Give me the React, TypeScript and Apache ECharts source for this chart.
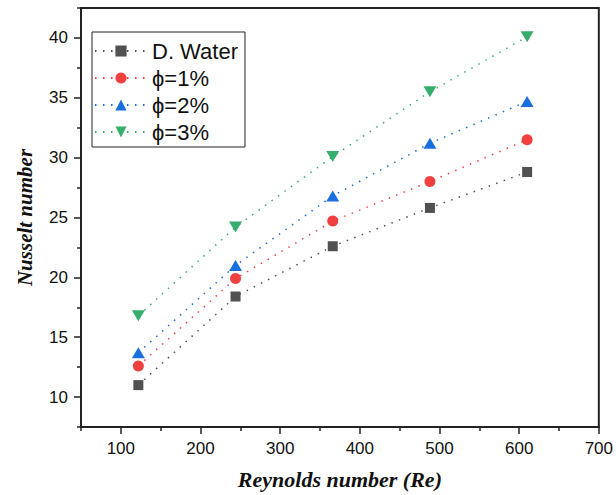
import React, { useEffect, useRef } from "react";
import * as echarts from "echarts";

const reynolds = [122, 244, 366, 488, 610];
const seriesNames = ["D. Water", "ϕ=1%", "ϕ=2%", "ϕ=3%"];
const dWater = [11.0, 18.4, 22.6, 25.8, 28.8];
const phi1 = [12.6, 19.9, 24.7, 28.0, 31.5];
const phi2 = [13.7, 21.0, 26.8, 31.2, 34.7];
const phi3 = [16.8, 24.2, 30.1, 35.5, 40.1];
const xMajorTicks = [100, 200, 300, 400, 500, 600, 700];
const xMinorTicks = [50, 150, 250, 350, 450, 550, 650];
const yMajorTicks = [10, 15, 20, 25, 30, 35, 40];
const yMinorTicks = [7.5, 12.5, 17.5, 22.5, 27.5, 32.5, 37.5, 42.5];

const colors = ["#515151", "#F14040", "#1A6FDF", "#37AD6B"];
const symbols = ["rect", "circle", "triangle", "path://M0,0 L10,0 L5,9 Z"];
const symbolSizes: any[] = [10, 11, [13, 11], [13, 11]];
const allData = [dWater, phi1, phi2, phi3];

const sans = "'Liberation Sans', Arial, sans-serif";
const serif = "'Liberation Serif', 'Times New Roman', serif";
const axisColor = "#222";

export default function App() {
  const ref = useRef<HTMLDivElement>(null);
  useEffect(() => {
    if (!ref.current) return;
    const chart = echarts.init(ref.current, undefined, { renderer: "svg" });
    const series = allData.map((vals, i) => ({
      name: seriesNames[i],
      type: "line",
      xAxisIndex: 0,
      yAxisIndex: 0,
      data: reynolds.map((x, j) => [x, vals[j]]),
      symbol: symbols[i],
      symbolSize: symbolSizes[i],
      itemStyle: { color: colors[i] },
      lineStyle: { color: colors[i], width: 1.5, type: [1.5, 6.5] },
    }));
    chart.setOption({
      animation: false,
      backgroundColor: "#fff",
      grid: {
        left: 81,
        right: 15,
        top: 8,
        bottom: 68,
        show: true,
        borderColor: axisColor,
        borderWidth: 2,
      },
      legend: {
        orient: "vertical",
        left: 92,
        top: 32,
        data: seriesNames,
        itemWidth: 52,
        itemHeight: 14,
        itemGap: 5,
        padding: [8, 7, 4, 2],
        borderColor: axisColor,
        borderWidth: 1,
        backgroundColor: "#fff",
        textStyle: { fontFamily: sans, fontSize: 22, color: "#111" },
      },
      xAxis: [
        {
          type: "value",
          min: 50,
          max: 700,
          position: "bottom",
          name: "Reynolds number (Re)",
          nameLocation: "middle",
          nameGap: 41,
          nameTextStyle: {
            fontFamily: serif,
            fontStyle: "italic",
            fontWeight: "bold",
            fontSize: 22,
            color: "#111",
          },
          axisLine: { show: true, lineStyle: { color: axisColor, width: 2 } },
          axisTick: {
            show: true,
            customValues: xMajorTicks,
            length: 7,
            lineStyle: { color: axisColor, width: 1.5 },
          },
          axisLabel: {
            customValues: xMajorTicks,
            fontFamily: sans,
            fontSize: 17,
            color: "#111",
            margin: 13,
          },
          splitLine: { show: false },
        },
        {
          type: "value",
          min: 50,
          max: 700,
          position: "bottom",
          axisLine: { show: false },
          axisTick: {
            show: true,
            customValues: xMinorTicks,
            length: 4,
            lineStyle: { color: axisColor, width: 1.5 },
          },
          axisLabel: { show: false },
          splitLine: { show: false },
        },
      ],
      yAxis: [
        {
          type: "value",
          min: 7.5,
          max: 42.5,
          position: "left",
          name: "Nusselt number",
          nameLocation: "middle",
          nameGap: 46,
          nameTextStyle: {
            fontFamily: serif,
            fontStyle: "italic",
            fontWeight: "bold",
            fontSize: 21,
            color: "#111",
          },
          axisLine: { show: true, lineStyle: { color: axisColor, width: 2 } },
          axisTick: {
            show: true,
            customValues: yMajorTicks,
            length: 7,
            lineStyle: { color: axisColor, width: 1.5 },
          },
          axisLabel: {
            customValues: yMajorTicks,
            fontFamily: sans,
            fontSize: 17,
            color: "#111",
            margin: 13,
          },
          splitLine: { show: false },
        },
        {
          type: "value",
          min: 7.5,
          max: 42.5,
          position: "left",
          axisLine: { show: false },
          axisTick: {
            show: true,
            customValues: yMinorTicks,
            length: 4,
            lineStyle: { color: axisColor, width: 1.5 },
          },
          axisLabel: { show: false },
          splitLine: { show: false },
        },
      ],
      series,
    });
    return () => chart.dispose();
  }, []);
  return <div ref={ref} style={{ width: 616, height: 495, position: "absolute", left: 0, top: 0 }} />;
}
